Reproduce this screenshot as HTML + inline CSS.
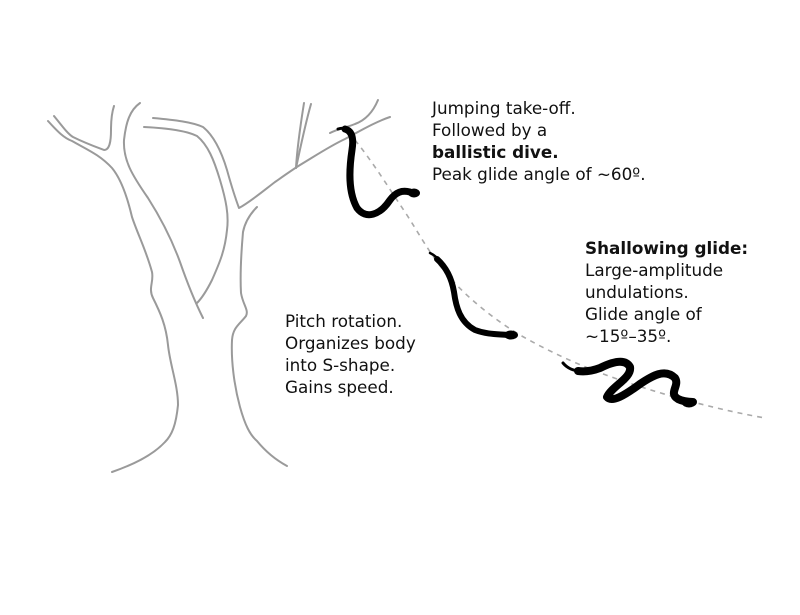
<!DOCTYPE html>
<html><head><meta charset="utf-8"><style>
html,body{margin:0;padding:0;background:#fff;}
svg{display:block;}
text{font-family:"DejaVu Sans","Liberation Sans",sans-serif;font-size:16.8px;fill:#111;}
.b{font-weight:bold;}
</style></head><body>
<svg width="800" height="615" viewBox="0 0 800 615" xmlns="http://www.w3.org/2000/svg">
<g fill="none" stroke="#9a9a9a" stroke-width="2" stroke-linecap="round" stroke-linejoin="round">
<path d="M48,121 C58,132 64,138 72,141 C88,150 100,155 112,168 C122,180 128,200 132,217 C138,235 146,250 152,272 C154,282 148,288 153,298 C160,312 166,325 168,345 C170,365 178,385 178,405 C176,425 172,435 165,442 C152,456 132,465 112,472"/>
<path d="M54,116 C62,126 68,134 73,137 C85,143 96,147 104,150 C110,150 111,140 111,130 C111,120 112,112 114,106"/>
<path d="M140,103 C130,110 126,122 124,140 C123,160 132,175 148,198 C162,220 172,240 180,262 C188,285 194,300 203,318"/>
<path d="M144,127 C165,128 185,130 197,136 C208,145 214,160 220,180 C226,200 229,215 227,230 C225,250 220,262 212,280 C206,292 200,300 197,303"/>
<path d="M153,118 C175,120 192,122 203,127 C213,135 221,150 227,170 C232,188 236,200 239,208 C250,202 262,192 275,182 C285,175 292,170 300,165 C315,156 330,146 345,139 C360,131 375,122 390,117"/>
<path d="M257,207 C250,214 245,222 243,232 C241,255 240,275 241,293 C243,305 249,310 246,316 C240,324 233,327 232,340 C231,360 234,385 240,407 C245,425 250,435 257,441 C266,452 276,460 287,466"/>
<path d="M296,168 C297,150 300,128 304,103"/>
<path d="M296,168 C301,145 305,125 311,104"/>
<path d="M378,100 C373,112 366,120 355,124 C348,127 340,128 330,133"/>
</g>
<path d="M355,140 C375,165 390,190 405,212 C420,235 430,255 450,278 C470,300 495,320 520,335 C550,352 580,366 620,380 C670,397 720,410 765,418" fill="none" stroke="#aaa" stroke-width="1.6" stroke-dasharray="5,5"/>
<g fill="none" stroke="#000" stroke-linecap="round" stroke-linejoin="round">
<path d="M345,129 C352,131 354,138 352,150 C349,170 348,192 357,208 C366,220 380,215 390,200 C396,192 402,190 410,192" stroke-width="7"/>
<path d="M338,129 C344,127 350,129 352,133" stroke-width="3"/>
<path d="M437,259 C447,268 452,280 454,292 C456,307 460,322 475,330 C488,335 500,334 508,335" stroke-width="6"/>
<path d="M430,253 C434,255 437,257 440,261" stroke-width="2.5"/>
<path d="M578,371 C585,372 592,371 600,368 C612,362 625,358 630,367 C632,378 612,386 607,397 C612,403 625,395 640,384 C652,376 665,368 675,378 C680,386 668,393 678,399 C684,402 690,402 693,402" stroke-width="8"/>
<path d="M563,363 C568,369 574,371 582,371" stroke-width="3"/>
</g>
<g fill="#000">
<ellipse cx="414" cy="193" rx="6" ry="4.5"/>
<ellipse cx="511" cy="335" rx="7" ry="4.5"/>
<ellipse cx="689" cy="403" rx="7" ry="4.5"/>
</g>
<text x="432" y="114">Jumping take-off.</text>
<text x="432" y="136">Followed by a</text>
<text x="432" y="158" class="b">ballistic dive.</text>
<text x="432" y="180">Peak glide angle of ~60º.</text>
<text x="585" y="254" class="b">Shallowing glide:</text>
<text x="585" y="276">Large-amplitude</text>
<text x="585" y="298">undulations.</text>
<text x="585" y="320">Glide angle of</text>
<text x="585" y="342">~15º–35º.</text>
<text x="285" y="327">Pitch rotation.</text>
<text x="285" y="349">Organizes body</text>
<text x="285" y="371">into S-shape.</text>
<text x="285" y="393">Gains speed.</text>
</svg>
</body></html>
